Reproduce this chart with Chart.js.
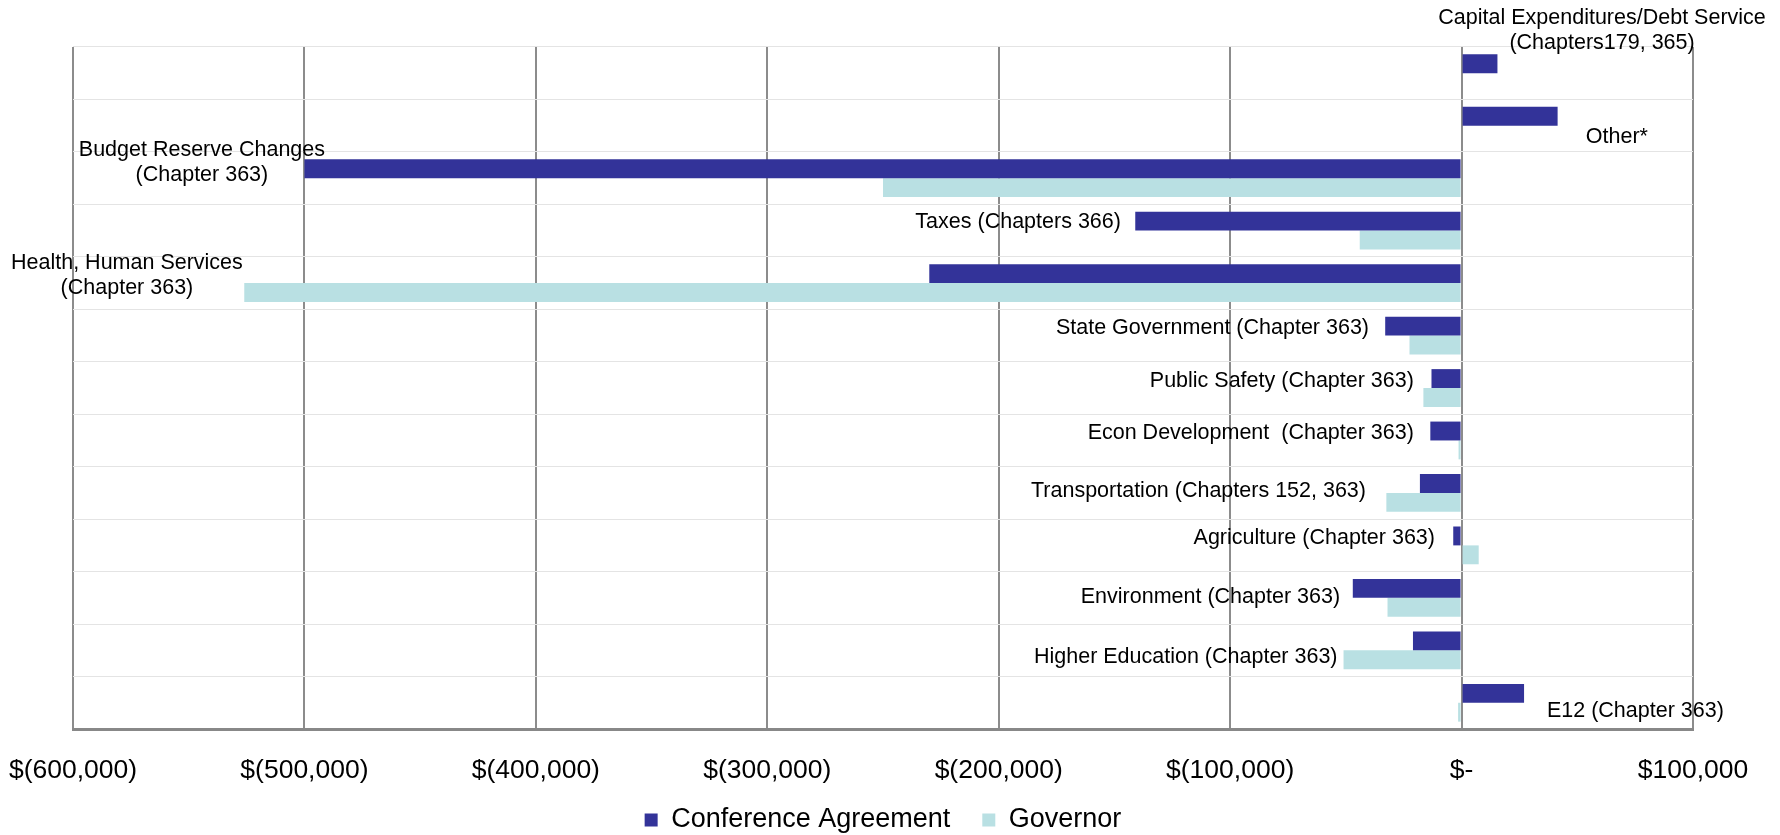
<!DOCTYPE html>
<html>
<head>
<meta charset="utf-8">
<script src="https://cdn.jsdelivr.net/npm/chart.js@4"></script>
<style>
  html, body { margin: 0; padding: 0; background: #ffffff; }
  #wrap { width: 1780px; height: 835px; }
</style>
</head>
<body>
<div id="wrap"><canvas id="c" width="1780" height="835"></canvas></div>
<script>
// ---- Data ----
const categories = [
  ["Capital Expenditures/Debt Service", "(Chapters179, 365)"],
  ["Other*"],
  ["Budget Reserve Changes", "(Chapter 363)"],
  ["Taxes (Chapters 366)"],
  ["Health, Human Services", "(Chapter 363)"],
  ["State Government (Chapter 363)"],
  ["Public Safety (Chapter 363)"],
  ["Econ Development  (Chapter 363)"],
  ["Transportation (Chapters 152, 363)"],
  ["Agriculture (Chapter 363)"],
  ["Environment (Chapter 363)"],
  ["Higher Education (Chapter 363)"],
  ["E12 (Chapter 363)"]
];
const conferenceAgreement = [15500, 41500, -500000, -141000, -230000, -33000, -13000, -13500, -18000, -3600, -47000, -21000, 27000];
const governor = [0, 0, -250000, -44000, -526000, -22500, -16500, -1300, -32500, 7400, -32000, -51000, -1500];
const tickLabels = ["$(600,000)", "$(500,000)", "$(400,000)", "$(300,000)", "$(200,000)", "$(100,000)", "$-", "$100,000"];
const seriesNames = ["Conference Agreement", "Governor"];

// ---- Label placement (anchor value on x axis, alignment, pixel offset from category centre) ----
const labelAnchorX = [60700, 67100, -544300, -147200, -576700, -40000, -20600, -20600, -41300, -11500, -52500, -53600, 75100];
const labelAlign = ["center", "center", "center", "right", "center", "right", "right", "right", "right", "right", "right", "right", "center"];
const labelDy = [-55, 11.5, -28.5, -8.5, -19.5, -7, -6.5, -7, -1.5, -7, -0.5, 6.5, 8.5];

const FONT = "'Liberation Sans', Arial, Helvetica, sans-serif";

const categoryLabels = {
  id: 'categoryLabels',
  afterDatasetsDraw(chart) {
    const ctx = chart.ctx;
    const xs = chart.scales.x, ys = chart.scales.y;
    ctx.save();
    ctx.font = "21.5px " + FONT;
    ctx.fillStyle = "#000000";
    ctx.textBaseline = "middle";
    categories.forEach((lines, i) => {
      const x = xs.getPixelForValue(labelAnchorX[i]);
      const yc = ys.getPixelForValue(i) + labelDy[i];
      ctx.textAlign = labelAlign[i];
      lines.forEach((t, k) => ctx.fillText(t, x, yc + k * 25));
    });
    ctx.restore();
  }
};

new Chart(document.getElementById('c'), {
  type: 'bar',
  data: {
    labels: categories.map(l => l.join(' ')),
    datasets: [
      { label: seriesNames[0], data: conferenceAgreement, backgroundColor: '#333399', borderWidth: 0, barPercentage: 1, categoryPercentage: 0.72 },
      { label: seriesNames[1], data: governor, backgroundColor: '#b9e0e3', borderWidth: 0, barPercentage: 1, categoryPercentage: 0.72 }
    ]
  },
  options: {
    indexAxis: 'y',
    responsive: false,
    animation: false,
    devicePixelRatio: 1,
    layout: { padding: { left: 73, right: 87, top: 47, bottom: -8.5 } },
    plugins: {
      legend: {
        position: 'bottom',
        labels: {
          boxWidth: 13, boxHeight: 13, padding: 32,
          color: '#000000',
          font: { family: FONT, size: 27 }
        }
      },
      tooltip: { enabled: false }
    },
    scales: {
      x: {
        min: -600000, max: 100000,
        ticks: {
          stepSize: 100000,
          color: '#000000',
          mirror: true,
          padding: -58,
          font: { family: FONT, size: 26.5 },
          callback: (v, i) => tickLabels[i]
        },
        grid: { color: '#8c8c8c', lineWidth: 2, drawTicks: false },
        border: { display: true, color: '#888888', width: 3 },
        afterFit: s => { s.height = 45.5; s.paddingLeft = 0; s.paddingRight = 0; }
      },
      y: {
        ticks: { display: false },
        grid: { offset: true, color: '#e4e4e4', lineWidth: 1, drawTicks: false },
        border: { display: false },
        afterFit: s => { s.width = 0; s.paddingTop = 0; s.paddingBottom = 0; }
      }
    }
  },
  plugins: [categoryLabels]
});
</script>
</body>
</html>
